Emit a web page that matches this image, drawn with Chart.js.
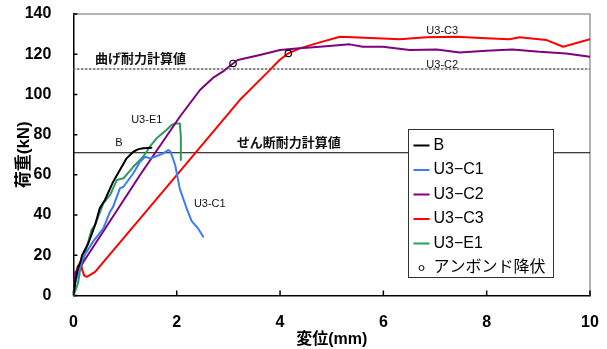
<!DOCTYPE html>
<html>
<head>
<meta charset="utf-8">
<script src="https://cdn.jsdelivr.net/npm/chart.js@4.4.1/dist/chart.umd.min.js"></script>
<style>
  html, body { margin: 0; padding: 0; background: #fff; }
  #wrap { position: relative; width: 607px; height: 349px; }
</style>
</head>
<body>
<div id="wrap"><canvas id="c" width="607" height="349"></canvas></div>
<script>
// Load–displacement curves (displacement mm, load kN)
const seriesNames = ['B', 'U3−C1', 'U3−C2', 'U3−C3', 'U3−E1'];
const seriesColors = ['#000000', '#3b7cf4', '#800080', '#ff0000', '#2f9a5f'];

const curveB = [
  [0,0],[0.04,7.7],[0.09,13.7],[0.13,16.2],[0.17,20.1],[0.29,26],[0.42,35.1],[0.51,43.4],
  [0.61,47.5],[0.77,56.6],[0.90,62.4],[1.03,68.2],[1.16,71.5],[1.26,72.8],[1.35,73.2],[1.51,73.5]
];
const curveC1 = [
  [0,0],[0.05,7.7],[0.13,13.7],[0.19,19.1],[0.32,24.3],[0.38,26.8],[0.58,33.4],[0.71,41.7],
  [0.77,44.2],[0.90,53.3],[0.97,54.1],[1.16,60.8],[1.29,66.5],[1.39,69],[1.48,68.2],[1.58,69],
  [1.74,70.7],[1.84,72.4],[1.88,71.5],[1.97,64.9],[2.06,53],[2.19,43.5],[2.29,37],[2.42,33.1],[2.51,29.3]
];
const curveC2 = [
  [0,0],[0.01,7.2],[0.03,11.2],[0.13,14.2],[1.29,59.9],[2.06,88.9],[2.45,102.2],[2.70,108.2],
  [2.89,111.3],[3.09,115.4],[3.18,117.1],[3.61,119.6],[4.0,122.1],[4.32,122.9],[4.77,123.7],
  [5.35,124.9],[5.60,123.7],[5.99,123.7],[6.51,122.1],[7.03,122.4],[7.48,120.9],[7.99,121.7],
  [8.50,122.4],[9.02,121.2],[9.54,120.4],[10.0,118.7]
];
const curveC3 = [
  [0,0],[0.01,0.2],[0.03,9.2],[0.08,14.3],[0.14,16.7],[0.17,12.7],[0.21,9.9],[0.26,9.3],
  [0.42,11.8],[2.0,59.9],[3.22,97.2],[3.80,112.1],[3.99,117.1],[4.16,120.4],[4.38,122.9],
  [4.77,125.9],[5.16,128.7],[5.87,127.9],[6.32,127.4],[6.83,128.4],[7.41,128.7],[7.99,127.9],
  [8.44,127.4],[8.64,128.4],[9.15,127.1],[9.48,123.7],[10.0,127.5]
];
const curveE1 = [
  [0,0],[0.03,1.9],[0.09,6.1],[0.13,12.7],[0.19,17.7],[0.26,24.3],[0.35,32.6],[0.42,35.1],
  [0.58,45.8],[0.71,50],[0.84,57.4],[0.97,58.3],[1.16,64],[1.35,69],[1.48,74],[1.61,78.2],
  [1.80,82.3],[1.90,84.8],[1.97,85.6],[2.06,85.6],[2.08,79],[2.08,67.4]
];
// Unbonded bar yield points
const yieldPoints = [[3.09,115.4],[4.16,120.4]];

// Calculated strengths (kN)
const flexuralStrength = 112.6;
const shearStrength = 71.0;

const xTickValues = [0, 2, 4, 6, 8, 10];
const yTickValues = [0, 20, 40, 60, 80, 100, 120, 140];

const toXY = arr => arr.map(p => ({x: p[0], y: p[1]}));
const curves = [curveB, curveC1, curveC2, curveC3, curveE1];

const fontMain = "'Liberation Sans', Arial, 'Noto Sans CJK JP', sans-serif";
const fontJP = "'Liberation Sans', 'Noto Sans CJK JP', sans-serif";

const datasets = curves.map((c, i) => ({
  label: seriesNames[i],
  data: toXY(c),
  showLine: true,
  borderColor: seriesColors[i],
  borderWidth: 2,
  pointRadius: 0,
  tension: 0,
  fill: false,
  order: 3
}));
datasets.push({
  label: 'shear',
  data: [{x: 0, y: shearStrength}, {x: 10, y: shearStrength}],
  showLine: true,
  borderColor: '#000', borderWidth: 1.2, pointRadius: 0, order: 5
});
datasets.push({
  label: 'flexure',
  data: [{x: 0, y: flexuralStrength}, {x: 10, y: flexuralStrength}],
  showLine: true,
  borderColor: '#666', borderWidth: 1.5, borderDash: [1.5, 2.5], pointRadius: 0, order: 5
});
datasets.push({
  label: 'アンボンド降伏',
  data: toXY(yieldPoints),
  showLine: false,
  pointStyle: 'circle',
  pointRadius: 3.2,
  pointBorderWidth: 1.2,
  pointBorderColor: '#000',
  pointBackgroundColor: 'rgba(0,0,0,0)',
  order: 1
});

// Text annotations placed at data coordinates
const annotations = [
  {text: '曲げ耐力計算値', x: 0.42, y: 117.6, align: 'left', font: 'bold 13px ' + fontJP},
  {text: 'せん断耐力計算値', x: 3.16, y: 75.8, align: 'left', font: 'bold 13px ' + fontJP},
  {text: 'B', x: 0.88, y: 76.1, align: 'center', font: '11px ' + fontMain},
  {text: 'U3-E1', x: 1.42, y: 87.3, align: 'center', font: '11px ' + fontMain},
  {text: 'U3-C1', x: 2.64, y: 45.5, align: 'center', font: '11px ' + fontMain},
  {text: 'U3-C3', x: 7.14, y: 131.7, align: 'center', font: '11px ' + fontMain},
  {text: 'U3-C2', x: 7.14, y: 114.6, align: 'center', font: '11px ' + fontMain}
];

const framePlugin = {
  id: 'frame',
  beforeDatasetsDraw(chart) {
    const {ctx, chartArea: a, scales: {x, y}} = chart;
    ctx.save();
    // light top/right frame
    ctx.strokeStyle = '#9a9a9a';
    ctx.lineWidth = 1.5;
    ctx.beginPath();
    ctx.moveTo(a.left, a.top); ctx.lineTo(a.right, a.top); ctx.lineTo(a.right, a.bottom);
    ctx.stroke();
    // inward tick marks
    ctx.strokeStyle = '#000';
    ctx.lineWidth = 1.5;
    ctx.beginPath();
    yTickValues.forEach(v => {
      const py = y.getPixelForValue(v);
      ctx.moveTo(a.left, py); ctx.lineTo(a.left + 4, py);
    });
    xTickValues.forEach(v => {
      const px = x.getPixelForValue(v);
      ctx.moveTo(px, a.bottom); ctx.lineTo(px, a.bottom - 5);
    });
    ctx.stroke();
    ctx.restore();
  },
  afterDatasetsDraw(chart) {
    const {ctx, scales: {x, y}} = chart;
    ctx.save();
    ctx.fillStyle = '#111';
    ctx.textBaseline = 'middle';
    annotations.forEach(an => {
      ctx.font = an.font;
      ctx.textAlign = an.align;
      ctx.fillText(an.text, x.getPixelForValue(an.x), y.getPixelForValue(an.y));
    });
    ctx.restore();
  },
  afterDraw(chart) {
    // legend box
    const {ctx} = chart;
    const bx = 408.5, by = 129.5, bw = 145, bh = 148;
    ctx.save();
    ctx.fillStyle = '#fff';
    ctx.fillRect(bx, by, bw, bh);
    ctx.strokeStyle = '#333';
    ctx.lineWidth = 1;
    ctx.strokeRect(bx, by, bw, bh);
    ctx.font = '16px ' + fontJP;
    ctx.textBaseline = 'middle';
    ctx.textAlign = 'left';
    const step = 24.5;
    seriesNames.forEach((name, i) => {
      const cy = by + 16 + i * step;
      ctx.strokeStyle = seriesColors[i];
      ctx.lineWidth = 2;
      ctx.beginPath();
      ctx.moveTo(bx + 5, cy); ctx.lineTo(bx + 21, cy);
      ctx.stroke();
      ctx.fillStyle = '#000';
      ctx.fillText(name, bx + 25, cy);
    });
    const cy = by + 16 + 5 * step;
    ctx.strokeStyle = '#000';
    ctx.lineWidth = 1;
    ctx.beginPath();
    ctx.arc(bx + 13, cy, 2.5, 0, Math.PI * 2);
    ctx.stroke();
    ctx.fillStyle = '#000';
    ctx.fillText('アンボンド降伏', bx + 25, cy);
    ctx.restore();
  }
};

new Chart(document.getElementById('c'), {
  type: 'scatter',
  data: {datasets},
  options: {
    responsive: false,
    animation: false,
    devicePixelRatio: 1,
    layout: {padding: {top: 14, right: 17, left: 0, bottom: 0}},
    plugins: {legend: {display: false}, tooltip: {enabled: false}},
    elements: {line: {borderCapStyle: 'round', borderJoinStyle: 'round'}},
    scales: {
      x: {
        type: 'linear', min: 0, max: 10,
        afterBuildTicks: s => { s.ticks = xTickValues.map(v => ({value: v})); },
        afterFit: s => { s.height = 53.5; s.paddingLeft = 0; s.paddingRight = 0; },
        grid: {display: false},
        border: {display: true, color: '#000', width: 1.5},
        ticks: {color: '#000', padding: 9, maxRotation: 0, font: {family: fontMain, size: 16, weight: 'bold'}},
        title: {display: true, text: '変位(mm)', color: '#000', padding: {top: 0, bottom: 0},
                font: {family: fontJP, size: 16, weight: 'bold'}}
      },
      y: {
        type: 'linear', min: 0, max: 140,
        afterBuildTicks: s => { s.ticks = yTickValues.map(v => ({value: v})); },
        afterFit: s => { s.width = 73.4; s.paddingTop = 0; s.paddingBottom = 0; },
        grid: {display: false},
        border: {display: true, color: '#000', width: 1.5},
        ticks: {color: '#000', padding: 14, font: {family: fontMain, size: 16, weight: 'bold'}},
        title: {display: true, text: '荷重(kN)', color: '#000', padding: {top: 14, bottom: 0},
                font: {family: fontJP, size: 17, weight: 'bold'}}
      }
    }
  },
  plugins: [framePlugin]
});
</script>
</body>
</html>
